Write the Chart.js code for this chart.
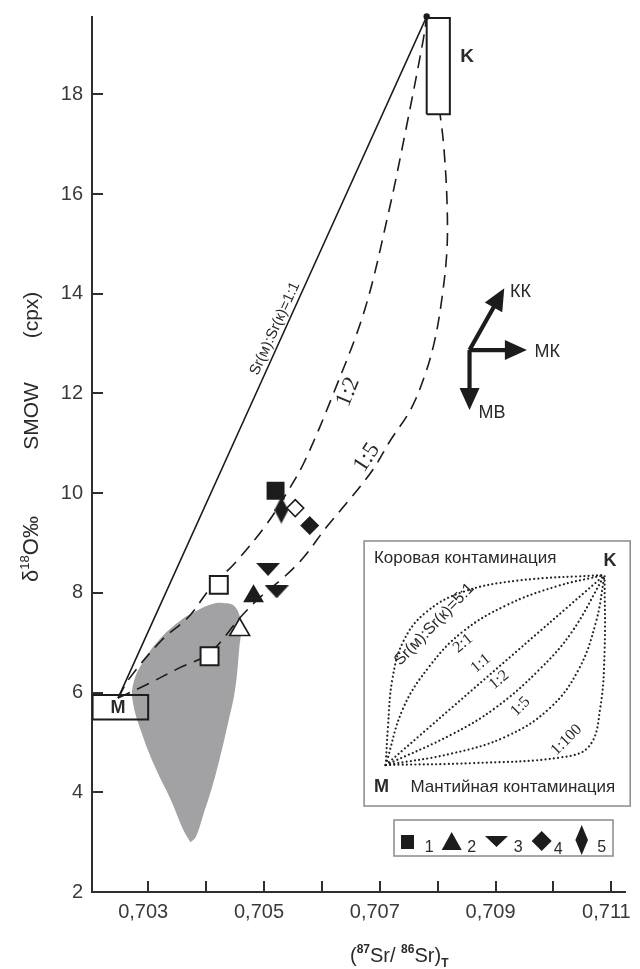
<!DOCTYPE html>
<html>
<head>
<meta charset="utf-8">
<script src="https://cdn.jsdelivr.net/npm/chart.js"></script>
<style>
  html, body { margin: 0; padding: 0; background: #fff; }
</style>
</head>
<body>
<canvas id="myChart" width="640" height="969"></canvas>
<script>
// axis ranges
const xMin = 0.70203, xMax = 0.71124;
const yMin = 2, yMax = 19.55;

// mixing curves M -> K
const curve11 = [[0.70248, 5.89], [0.70781, 19.56]];
const curve12 = [[0.70248, 5.89], [0.70268, 6.29], [0.70324, 7.06], [0.70370, 7.52], [0.70409, 8.12],
  [0.70450, 8.60], [0.70501, 9.32], [0.70535, 9.92], [0.70569, 10.61], [0.70620, 12.00],
  [0.70674, 13.68], [0.70715, 15.62], [0.70744, 17.23], [0.70775, 19.09], [0.70781, 19.56]];
const curve15 = [[0.70248, 5.89], [0.70296, 6.15], [0.70353, 6.49], [0.70406, 6.79], [0.70460, 7.52],
  [0.70494, 7.92], [0.70535, 8.32], [0.70569, 8.72], [0.70608, 9.32], [0.70647, 9.86], [0.70688, 10.47],
  [0.70719, 11.07], [0.70753, 11.67], [0.70778, 12.37], [0.70795, 13.07], [0.70807, 13.88],
  [0.70816, 14.88], [0.70816, 15.88], [0.70811, 16.88], [0.70806, 17.43], [0.70781, 19.56]];

// grey field
const greyField = [[0.70373, 3.00], [0.70382, 3.10], [0.70395, 3.54], [0.70409, 4.05], [0.70423, 4.65],
  [0.70438, 5.39], [0.70450, 6.05], [0.70457, 6.85], [0.70460, 7.36], [0.70450, 7.72], [0.70426, 7.80],
  [0.70412, 7.78], [0.70387, 7.66], [0.70353, 7.42], [0.70319, 7.06], [0.70293, 6.65], [0.70276, 6.25],
  [0.70273, 5.85], [0.70290, 5.15], [0.70314, 4.45], [0.70339, 3.85], [0.70361, 3.24], [0.70373, 3.00]];

// end member boxes
const boxM = [[0.70204, 5.46], [0.70300, 5.95]];
const boxK = [[0.70781, 17.60], [0.70821, 19.53]];
const pointK = [[0.70781, 19.56]];

// samples
const group1 = [[0.70520, 10.05]];
const group2 = [[0.70482, 7.93]];
const group3 = [[0.70507, 8.47], [0.70522, 8.02]];
const group4 = [[0.70579, 9.35]];
const group5 = [[0.70530, 9.66]];
const openSquares = [[0.70422, 8.16], [0.70406, 6.73]];
const openTriangles = [[0.70458, 7.26]];
const openDiamonds = [[0.70554, 9.70]];

// process vectors
const vecOrigin = [0.70855, 12.87];
const vecTips = [[0.70915, 14.11], [0.70954, 12.87], [0.70855, 11.67]];
const vecLabels = ['КК', 'МК', 'МВ'];
const vecLabelPos = [[0.70943, 14.04], [0.70989, 12.83], [0.70894, 11.60]];

// inset (normalised M=0, K=1)
const inset51 = [[0, 0], [0.01, 0.2], [0.03, 0.45], [0.08, 0.65], [0.18, 0.8], [0.35, 0.91], [0.6, 0.97], [1, 1]];
const inset21 = [[0, 0], [0.08, 0.3], [0.2, 0.52], [0.35, 0.7], [0.55, 0.84], [0.78, 0.94], [1, 1]];
const inset11 = [[0, 0], [1, 1]];
const inset12 = [[0, 0], [0.3, 0.16], [0.5, 0.3], [0.7, 0.5], [0.85, 0.7], [1, 1]];
const inset15 = [[0, 0], [0.3, 0.06], [0.55, 0.15], [0.75, 0.3], [0.88, 0.5], [0.96, 0.75], [1, 1]];
const inset100 = [[0, 0], [0.4, 0.01], [0.8, 0.04], [0.93, 0.1], [0.98, 0.3], [1, 0.6], [1, 1]];

const ink = '#1c1c1c';
const pts = a => a.map(p => ({x: p[0], y: p[1]}));
const rectPts = b => pts([[b[0][0], b[0][1]], [b[1][0], b[0][1]], [b[1][0], b[1][1]], [b[0][0], b[1][1]], [b[0][0], b[0][1]]]);

function shapeCanvas(w, h, path) {
  const c = document.createElement('canvas');
  c.width = w; c.height = h;
  const g = c.getContext('2d');
  g.fillStyle = ink;
  g.beginPath();
  path.forEach((p, i) => i ? g.lineTo(p[0], p[1]) : g.moveTo(p[0], p[1]));
  g.closePath();
  g.fill();
  return c;
}
const downTri = shapeCanvas(24, 13, [[0, 0], [24, 0], [12, 13]]);
const tallDiamond = shapeCanvas(14, 27, [[7, 0], [14, 13.5], [7, 27], [0, 13.5]]);

function lineSet(data, dash, order) {
  return {type: 'line', data: pts(data), borderColor: ink, borderWidth: 1.6, borderDash: dash,
    pointRadius: 0, tension: 0.35, fill: false, order: order};
}
function insetSet(data) {
  return {type: 'line', data: pts(data), xAxisID: 'xi', yAxisID: 'yi', borderColor: '#222',
    borderWidth: 2.2, borderDash: [0.01, 4.2], borderCapStyle: 'round', pointRadius: 0,
    tension: 0.4, fill: false, order: 20};
}
function markSet(data, style, radius, fillColor, bw, order) {
  return {type: 'scatter', data: pts(data), pointStyle: style, pointRadius: radius,
    backgroundColor: fillColor, borderColor: ink, borderWidth: bw, order: order};
}

const annotations = {
  id: 'annotations',
  beforeDatasetsDraw(chart) {
    const ctx = chart.ctx;
    const xi = chart.scales.xi, yi = chart.scales.yi;
    // inset frame
    const x0 = xi.getPixelForValue(-0.099), x1 = xi.getPixelForValue(1.117);
    const y0 = yi.getPixelForValue(1.179), y1 = yi.getPixelForValue(-0.216);
    ctx.save();
    ctx.fillStyle = '#fff';
    ctx.strokeStyle = '#8a8a8a';
    ctx.lineWidth = 1.5;
    ctx.fillRect(x0, y0, x1 - x0, y1 - y0);
    ctx.strokeRect(x0, y0, x1 - x0, y1 - y0);
    ctx.restore();
  },
  afterDraw(chart) {
    const ctx = chart.ctx;
    const xs = chart.scales.x, ys = chart.scales.y;
    const xi = chart.scales.xi, yi = chart.scales.yi;
    const area = chart.chartArea;
    const px = v => xs.getPixelForValue(v), py = v => ys.getPixelForValue(v);
    const sans = 'Liberation Sans, Arial, sans-serif';
    const serif = 'Liberation Serif, Times New Roman, serif';
    ctx.save();

    // inward ticks and x labels
    ctx.strokeStyle = '#2f2f2f';
    ctx.lineWidth = 2;
    ctx.beginPath();
    xs.ticks.forEach(t => {
      const X = Math.round(px(t.value));
      ctx.moveTo(X, area.bottom); ctx.lineTo(X, area.bottom - 11);
    });
    ys.ticks.forEach(t => {
      if (t.value <= yMin) return;
      const Y = Math.round(py(t.value));
      ctx.moveTo(area.left, Y); ctx.lineTo(area.left + 11, Y);
    });
    ctx.stroke();
    ctx.fillStyle = '#3a3a3a';
    ctx.font = '20px ' + sans;
    ctx.textAlign = 'center';
    ctx.textBaseline = 'middle';
    xs.ticks.forEach(t => {
      const k = Math.round(t.value * 1000);
      if (k % 2 === 1) ctx.fillText('0,' + k, px(t.value) - 5, area.bottom + 20);
    });

    function rtext(txt, x, y, ang, font, color) {
      ctx.save();
      ctx.translate(x, y);
      ctx.rotate(ang * Math.PI / 180);
      ctx.font = font;
      ctx.fillStyle = color || '#2a2a2a';
      ctx.textAlign = 'center';
      ctx.textBaseline = 'middle';
      ctx.fillText(txt, 0, 0);
      ctx.restore();
    }
    function runs(parts, x, y) {
      // parts: [text, font, dy]
      let cx = x;
      parts.forEach(p => {
        ctx.font = p[1];
        ctx.fillText(p[0], cx, y + p[2]);
        cx += ctx.measureText(p[0]).width;
      });
      return cx - x;
    }
    function runsWidth(parts) {
      let w = 0;
      parts.forEach(p => { ctx.font = p[1]; w += ctx.measureText(p[0]).width; });
      return w;
    }

    // axis titles
    ctx.fillStyle = '#2a2a2a';
    ctx.textAlign = 'left';
    ctx.textBaseline = 'alphabetic';
    runs([['(', '20px ' + sans, 0], ['87', 'bold 12px ' + sans, -9], ['Sr/ ', '20px ' + sans, 0],
      ['86', 'bold 12px ' + sans, -9], ['Sr)', '20px ' + sans, 0], ['T', 'bold 12px ' + sans, 5]], 350, 962);

    // vertical title in three groups, centred where they sit in the figure
    const yGroups = [
      [[['δ', '22px ' + sans, 0], ['18', '13px ' + sans, -9], ['O‰', '22px ' + sans, 0]], 549],
      [[['SMOW', '21px ' + sans, 0]], 416],
      [[['(cpx)', '21px ' + sans, 0]], 315]
    ];
    yGroups.forEach(g => {
      const w = runsWidth(g[0]);
      ctx.save();
      ctx.translate(38, g[1]);
      ctx.rotate(-Math.PI / 2);
      runs(g[0], -w / 2, 0);
      ctx.restore();
    });

    // end member letters
    ctx.font = 'bold 19px ' + sans;
    ctx.textAlign = 'center';
    ctx.textBaseline = 'middle';
    ctx.fillText('K', px(0.70851), py(18.76));
    ctx.font = 'bold 18px ' + sans;
    ctx.fillText('M', px(0.70248), py(5.69));

    // curve labels
    rtext('Sr(м):Sr(к)=1:1', px(0.70519), py(13.30), -65.3, '15px ' + sans);
    rtext('1:2', px(0.706455), py(12.03), -68, '23px ' + serif);
    rtext('1:5', px(0.706779), py(10.71), -57, '23px ' + serif);

    // vectors
    ctx.fillStyle = ink;
    ctx.strokeStyle = ink;
    ctx.lineWidth = 4.2;
    const ox = px(vecOrigin[0]), oy = py(vecOrigin[1]);
    vecTips.forEach((t, i) => {
      const tx = px(t[0]), ty = py(t[1]);
      const a = Math.atan2(ty - oy, tx - ox);
      const hl = 22, hw = 20;
      const bx = tx - hl * Math.cos(a), by = ty - hl * Math.sin(a);
      ctx.beginPath(); ctx.moveTo(ox, oy); ctx.lineTo(bx + 2 * Math.cos(a), by + 2 * Math.sin(a)); ctx.stroke();
      ctx.beginPath();
      ctx.moveTo(tx, ty);
      ctx.lineTo(bx + hw / 2 * Math.sin(a), by - hw / 2 * Math.cos(a));
      ctx.lineTo(bx - hw / 2 * Math.sin(a), by + hw / 2 * Math.cos(a));
      ctx.closePath(); ctx.fill();
      ctx.fillStyle = '#2a2a2a';
      ctx.font = '18px ' + sans;
      ctx.fillText(vecLabels[i], px(vecLabelPos[i][0]), py(vecLabelPos[i][1]));
      ctx.fillStyle = ink;
    });

    // inset texts
    const ux = v => xi.getPixelForValue(v), vy = v => yi.getPixelForValue(v);
    ctx.fillStyle = '#2a2a2a';
    ctx.textAlign = 'left';
    ctx.textBaseline = 'alphabetic';
    ctx.font = '17px ' + sans;
    ctx.fillText('Коровая контаминация', ux(-0.054), vy(1.062));
    ctx.fillText('Мантийная контаминация', ux(0.113), vy(-0.14));
    ctx.font = 'bold 18px ' + sans;
    ctx.fillText('M', ux(-0.054), vy(-0.142));
    ctx.textAlign = 'center';
    ctx.fillText('K', ux(1.025), vy(1.047));
    rtext('Sr(м):Sr(к)=5:1', ux(0.222), vy(0.74), -46, '16px ' + sans);
    rtext('2:1', ux(0.353), vy(0.64), -40, '16px ' + serif);
    rtext('1:1', ux(0.435), vy(0.535), -40, '16px ' + serif);
    rtext('1:2', ux(0.518), vy(0.447), -40, '16px ' + serif);
    rtext('1:5', ux(0.616), vy(0.307), -45, '16px ' + serif);
    rtext('1:100', ux(0.826), vy(0.132), -45, '16px ' + serif);

    // legend
    ctx.strokeStyle = '#8a8a8a';
    ctx.lineWidth = 1.5;
    ctx.strokeRect(394, 820, 219, 36);
    ctx.fillStyle = ink;
    ctx.fillRect(401, 835, 13, 14);
    function poly(p) { ctx.beginPath(); p.forEach((q, i) => i ? ctx.lineTo(q[0], q[1]) : ctx.moveTo(q[0], q[1])); ctx.closePath(); ctx.fill(); }
    poly([[451.7, 832], [461.7, 850], [441.7, 850]]);
    poly([[485, 836], [508, 836], [496.5, 847]]);
    poly([[541.7, 831], [551.7, 841], [541.7, 851], [531.7, 841]]);
    poly([[581.7, 825], [588, 840], [581.7, 855], [575.4, 840]]);
    ctx.fillStyle = '#2a2a2a';
    ctx.font = '16px ' + sans;
    ctx.textAlign = 'center';
    ctx.fillText('1', 429.3, 852);
    ctx.fillText('2', 471.7, 852);
    ctx.fillText('3', 518.3, 852);
    ctx.fillText('4', 558.3, 854);
    ctx.fillText('5', 601.7, 852);
    ctx.restore();
  }
};

const ctx = document.getElementById('myChart').getContext('2d');
const myChart = new Chart(ctx, {
  type: 'scatter',
  data: {
    datasets: [
      markSet(group1, 'rect', 12.7, ink, 0, 0),
      markSet(group5, tallDiamond, 13, ink, 0, 1),
      markSet(openDiamonds, 'rectRot', 8.5, '#fff', 1.5, 1),
      markSet(group4, 'rectRot', 9.5, ink, 0, 1),
      markSet(group3, downTri, 12, ink, 0, 1),
      markSet(group2, 'triangle', 12, ink, 0, 1),
      markSet(openTriangles, 'triangle', 11.5, '#fff', 1.6, 1),
      markSet(openSquares, 'rect', 12.7, '#fff', 2, 1),
      {type: 'scatter', data: pts(pointK), pointRadius: 3.2, backgroundColor: ink, borderWidth: 0, clip: false, order: 2},
      {type: 'line', data: rectPts(boxK), borderColor: ink, borderWidth: 2, pointRadius: 0, tension: 0,
        fill: 'shape', backgroundColor: '#fff', order: 3},
      {type: 'line', data: rectPts(boxM), borderColor: ink, borderWidth: 2, pointRadius: 0, tension: 0,
        fill: false, order: 3},
      lineSet(curve11, [], 5),
      lineSet(curve12, [13, 8], 5),
      lineSet(curve15, [13, 8], 5),
      {type: 'line', data: pts(greyField), borderWidth: 0, pointRadius: 0, tension: 0.4,
        fill: 'shape', backgroundColor: '#a2a2a4', order: 10},
      insetSet(inset51), insetSet(inset21), insetSet(inset11),
      insetSet(inset12), insetSet(inset15), insetSet(inset100)
    ]
  },
  options: {
    responsive: false,
    animation: false,
    events: [],
    layout: {padding: {top: 17, right: 7, left: 0, bottom: 0}},
    plugins: {legend: {display: false}, tooltip: {enabled: false}},
    scales: {
      x: {
        type: 'linear', min: xMin, max: xMax,
        grid: {display: false, drawTicks: false},
        border: {display: true, color: '#2f2f2f', width: 2},
        ticks: {stepSize: 0.001, includeBounds: false, display: false},
        afterFit: s => { s.height = 77; s.paddingLeft = 0; s.paddingRight = 0; }
      },
      y: {
        type: 'linear', min: yMin, max: yMax,
        grid: {display: false, drawTicks: false},
        border: {display: true, color: '#2f2f2f', width: 2},
        ticks: {stepSize: 2, includeBounds: false, padding: 9, color: '#3a3a3a',
          font: {family: 'Liberation Sans', size: 20}},
        afterFit: s => { s.width = 92; s.paddingTop = 0; s.paddingBottom = 0; }
      },
      xi: {type: 'linear', display: false, min: -1.3423, max: 1.0946},
      yi: {type: 'linear', display: false, min: -0.6684, max: 3.9368}
    }
  },
  plugins: [annotations]
});
</script>
</body>
</html>
